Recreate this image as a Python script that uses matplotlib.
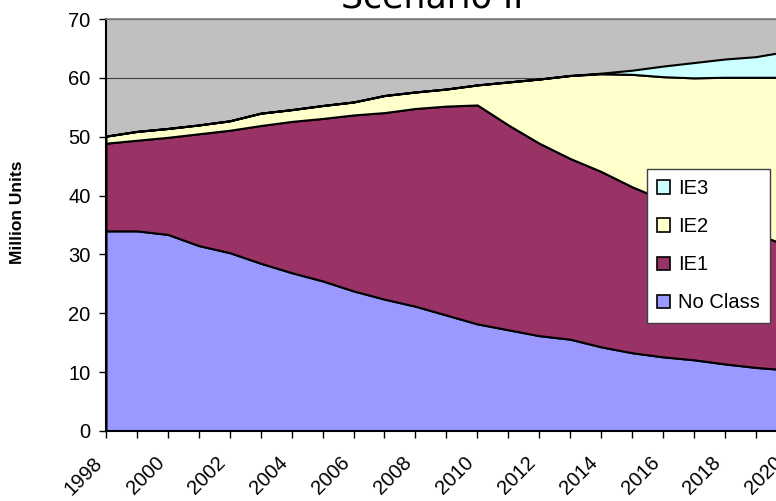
import numpy as np
import matplotlib
matplotlib.use("Agg")
from matplotlib import pyplot as plt
from matplotlib.patches import Patch
import matplotlib.transforms as mtrans

years = np.arange(1998, 2021)
noClass = [34.0, 34.0, 33.4, 31.5, 30.3, 28.5, 26.9, 25.5, 23.8, 22.4, 21.2, 19.7,
           18.2, 17.2, 16.2, 15.6, 14.3, 13.3, 12.6, 12.1, 11.4, 10.8, 10.4]
ie1 = [14.9, 15.4, 16.5, 19.0, 20.8, 23.4, 25.7, 27.6, 29.9, 31.7, 33.6, 35.5,
       37.2, 34.8, 32.7, 30.7, 29.8, 28.2, 26.7, 25.1, 23.8, 22.8, 21.1]
ie2 = [1.2, 1.5, 1.5, 1.5, 1.6, 2.1, 2.0, 2.2, 2.2, 2.9, 2.8, 2.9,
       3.4, 7.3, 10.9, 14.1, 16.6, 19.1, 20.9, 22.8, 24.9, 26.5, 28.6]
ie3 = [0, 0, 0, 0, 0, 0, 0, 0, 0, 0, 0, 0,
       0, 0, 0, 0, 0.1, 0.7, 1.8, 2.6, 3.1, 3.5, 4.4]
series = ["No Class", "IE1", "IE2", "IE3"]
colors = ["#9999FF", "#993366", "#FFFFCC", "#CCFFFF"]

fig = plt.figure(figsize=(7.76, 5.01), dpi=100)
# plot area runs past the right edge, like the cropped original
ax = fig.add_axes([106/776, 70/501, (786.7-106)/776, 412/501])
ax.set_facecolor("#C0C0C0")
ax.stackplot(years, noClass, ie1, ie2, ie3, colors=colors,
             edgecolor="black", linewidth=1.5, zorder=2)

ax.set_xlim(1998, 2020)
ax.set_ylim(0, 70)
ax.set_yticks(np.arange(0, 71, 10))
ax.yaxis.grid(True, color="#404040", linewidth=0.8, zorder=1)
ax.set_axisbelow(True)

ax.set_xticks(years)
ax.set_xticklabels([str(y) if y % 2 == 0 else "" for y in years],
                   rotation=45, ha="right")
off = mtrans.ScaledTranslation(-10/100, 0, fig.dpi_scale_trans)
for lbl in ax.get_xticklabels():
    lbl.set_transform(lbl.get_transform() + off)

ax.tick_params(axis="both", direction="out", length=5, width=1, labelsize=14.5)
ax.tick_params(axis="x", pad=11)
ax.tick_params(axis="y", pad=6)
for lbl in ax.get_xticklabels() + ax.get_yticklabels():
    lbl.set_family("Liberation Sans")

ax.spines["left"].set_linewidth(1.5)
ax.spines["bottom"].set_linewidth(1.5)
ax.spines["top"].set_color("#808080")
ax.spines["top"].set_linewidth(1.2)
ax.spines["right"].set_visible(False)

handles = [Patch(facecolor=c, edgecolor="black", linewidth=1.2) for c in colors]
leg = fig.legend(handles[::-1], series[::-1], loc="upper left",
                 bbox_to_anchor=(647/776, 1-169/501), frameon=True,
                 fancybox=False, framealpha=1, edgecolor="#404040",
                 prop={"family": "Liberation Sans", "size": 14.5},
                 handlelength=0.65, handleheight=0.65, handletextpad=0.4,
                 labelspacing=0.95, borderpad=0.5, borderaxespad=0)
leg.get_frame().set_linewidth(1)

fig.text(432/776, 1-7/501, "Scenario II", ha="center", va="baseline",
         fontsize=25, family="DejaVu Sans")
fig.text(17.5/776, 1-212.5/501, "Million Units", rotation=90, ha="center",
         va="center", fontsize=12.5, fontweight="bold", family="Liberation Sans")

fig.savefig("out.png", dpi=100)
